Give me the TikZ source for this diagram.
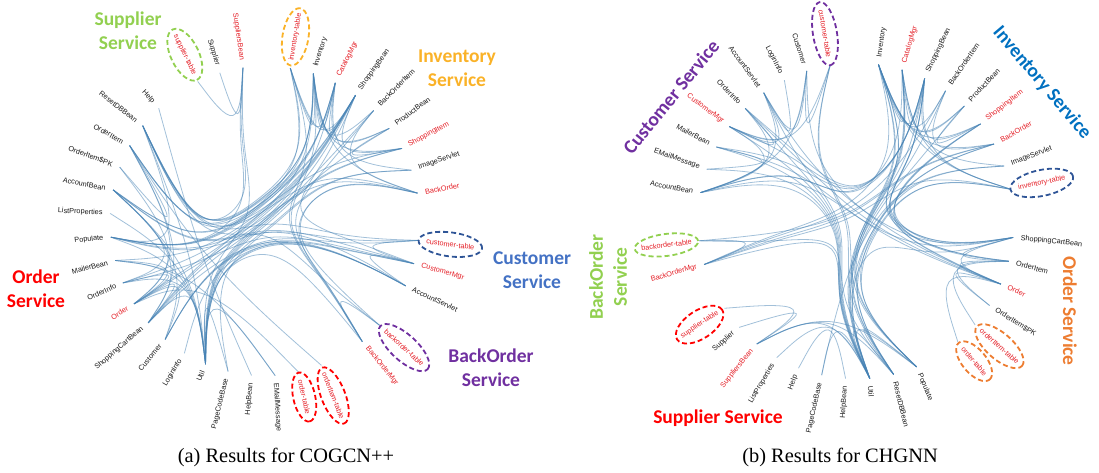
\documentclass[tikz,border=0pt]{standalone}
\usepackage{fontspec}
\setmainfont{Liberation Serif}
\newfontfamily\labfont{Liberation Sans}
\newfontfamily\svcfont{Carlito}
\usetikzlibrary{calc}
\definecolor{linkblue}{RGB}{70,130,180}
\definecolor{labred}{RGB}{228,30,38}
\definecolor{labblk}{RGB}{25,25,25}
\definecolor{sgreen}{RGB}{146,208,80}
\definecolor{sgold}{RGB}{250,178,40}
\definecolor{sblue}{RGB}{68,114,196}
\definecolor{spurple}{RGB}{112,48,160}
\definecolor{sred}{RGB}{255,0,0}
\definecolor{sblue2}{RGB}{0,112,192}
\definecolor{sorange}{RGB}{237,125,49}
\definecolor{snavy}{RGB}{47,85,151}
\tikzset{
  lab/.style={font=\labfont\fontsize{7.3}{8}\selectfont, inner sep=0.5pt},
  linkc/.style={draw=linkblue, draw opacity=0.5, line width=0.8pt},
  svc/.style={font=\svcfont\bfseries\fontsize{19.5}{24}\selectfont, align=center, inner sep=0pt},
  ell/.style={dash pattern=on 5pt off 3pt, line width=1.8pt},
  capt/.style={font=\fontsize{20.4}{24}\selectfont, inner sep=0pt}
}
% chart parameters
\def\czthL{-80.6}\def\czstL{8.78}\def\czRL{155}\def\czRTL{162}\def\czRHL{77.5}
\def\czthR{260.6}\def\czstR{-8.78}\def\czRR{158}\def\czRTR{165}\def\czRHR{79}
\newcommand\leaf[6]{%
  \edef\tz{\csname czth#1\endcsname}\edef\sz{\csname czst#1\endcsname}%
  \edef\rr{\csname czR#1\endcsname}\edef\rt{\csname czRT#1\endcsname}%
  \pgfmathsetmacro\ang{\tz+(\sz)*(#3)}%
  \coordinate (#1-#2) at ($(#1-c)+(\ang:\rr)$);
  \expandafter\xdef\csname hub@#1-#2\endcsname{#1-#4}%
  \pgfmathsetmacro\cv{cos(\ang)}%
  \ifdim\cv pt>0pt
    \pgfmathsetmacro\rot{0-(\ang)}%
    \node[lab,text=#5,anchor=west,rotate=\rot] (#1-#2-t) at ($(#1-c)+(\ang:\rt)$) {#6};
  \else
    \pgfmathsetmacro\rot{180-(\ang)}%
    \node[lab,text=#5,anchor=east,rotate=\rot] (#1-#2-t) at ($(#1-c)+(\ang:\rt)$) {#6};
  \fi
  \expandafter\xdef\csname rot@#1-#2\endcsname{\rot}%
}
\newcommand\hub[3]{%
  \edef\tz{\csname czth#1\endcsname}\edef\sz{\csname czst#1\endcsname}%
  \edef\rh{\csname czRH#1\endcsname}%
  \pgfmathsetmacro\ang{\tz+(\sz)*(#3)}%
  \coordinate (#1-#2) at ($(#1-c)+(\ang:\rh)$);
}
\newcommand\bund[3]{%
  \edef\hA{\csname hub@#1-#2\endcsname}%
  \edef\hB{\csname hub@#1-#3\endcsname}%
  \ifx\hA\hB
    \path ($0.85*(\hA)+0.075*(#1-#2)+0.075*(#1-#3)$) coordinate (q1);
    \draw[linkc] (#1-#2) -- ($0.8333*(#1-#2)+0.1667*(q1)$)
      .. controls ($0.6667*(#1-#2)+0.3333*(q1)$) and ($0.3333*(#1-#2)+0.6667*(q1)$)
      .. ($0.1667*(#1-#2)+0.6667*(q1)+0.1667*(#1-#3)$)
      .. controls ($0.6667*(q1)+0.3333*(#1-#3)$) and ($0.3333*(q1)+0.6667*(#1-#3)$)
      .. ($0.1667*(q1)+0.8333*(#1-#3)$) -- (#1-#3);
  \else
    \path ($0.85*(\hA)+0.1125*(#1-#2)+0.0375*(#1-#3)$) coordinate (q1)
          ($0.85*(#1-c)+0.075*(#1-#2)+0.075*(#1-#3)$) coordinate (q2)
          ($0.85*(\hB)+0.0375*(#1-#2)+0.1125*(#1-#3)$) coordinate (q3);
    \draw[linkc] (#1-#2) -- ($0.8333*(#1-#2)+0.1667*(q1)$)
      .. controls ($0.6667*(#1-#2)+0.3333*(q1)$) and ($0.3333*(#1-#2)+0.6667*(q1)$)
      .. ($0.1667*(#1-#2)+0.6667*(q1)+0.1667*(q2)$)
      .. controls ($0.6667*(q1)+0.3333*(q2)$) and ($0.3333*(q1)+0.6667*(q2)$)
      .. ($0.1667*(q1)+0.6667*(q2)+0.1667*(q3)$)
      .. controls ($0.6667*(q2)+0.3333*(q3)$) and ($0.3333*(q2)+0.6667*(q3)$)
      .. ($0.1667*(q2)+0.6667*(q3)+0.1667*(#1-#3)$)
      .. controls ($0.6667*(q3)+0.3333*(#1-#3)$) and ($0.3333*(q3)+0.6667*(#1-#3)$)
      .. ($0.1667*(q3)+0.8333*(#1-#3)$) -- (#1-#3);
  \fi
}
\newcommand\ovl[5]{%
  \draw[ell,#3,rotate=\csname rot@#1-#2\endcsname] (#1-#2-t.center) ellipse [x radius=#4pt, y radius=#5pt];
}
\newcommand\alledges[1]{%
\bund{#1}{Inventory}{invtab}
\bund{#1}{Inventory}{CatalogMgr}
\bund{#1}{Inventory}{ShoppingBean}
\bund{#1}{Inventory}{BackOrderMgr}
\bund{#1}{Inventory}{ShoppingItem}
\bund{#1}{Inventory}{ProductBean}
\bund{#1}{Inventory}{BackOrderItem}
\bund{#1}{Inventory}{Populate}
\bund{#1}{Inventory}{ResetDBBean}
\bund{#1}{Inventory}{OrderItem}
\bund{#1}{Inventory}{ShoppingCartBean}
\bund{#1}{Inventory}{BackOrder}
\bund{#1}{invtab}{CatalogMgr}
\bund{#1}{invtab}{ShoppingBean}
\bund{#1}{invtab}{ResetDBBean}
\bund{#1}{invtab}{Populate}
\bund{#1}{invtab}{BackOrderMgr}
\bund{#1}{CatalogMgr}{Util}
\bund{#1}{CatalogMgr}{ImageServlet}
\bund{#1}{CatalogMgr}{ProductBean}
\bund{#1}{CatalogMgr}{Populate}
\bund{#1}{CatalogMgr}{ShoppingBean}
\bund{#1}{CatalogMgr}{ResetDBBean}
\bund{#1}{CatalogMgr}{AccountBean}
\bund{#1}{ShoppingBean}{ShoppingItem}
\bund{#1}{ShoppingBean}{Util}
\bund{#1}{ShoppingBean}{Order}
\bund{#1}{ShoppingBean}{ShoppingCartBean}
\bund{#1}{ShoppingBean}{CustomerMgr}
\bund{#1}{ShoppingBean}{OrderInfo}
\bund{#1}{ShoppingBean}{AccountBean}
\bund{#1}{ShoppingBean}{MailerBean}
\bund{#1}{ShoppingBean}{OrderItem}
\bund{#1}{BackOrderItem}{BackOrder}
\bund{#1}{BackOrderItem}{BackOrderMgr}
\bund{#1}{BackOrderItem}{Util}
\bund{#1}{ProductBean}{ShoppingItem}
\bund{#1}{ProductBean}{Util}
\bund{#1}{ShoppingItem}{ShoppingCartBean}
\bund{#1}{ShoppingItem}{OrderItem}
\bund{#1}{ShoppingItem}{Order}
\bund{#1}{ImageServlet}{Util}
\bund{#1}{ImageServlet}{PageCodeBase}
\bund{#1}{BackOrder}{BackOrderMgr}
\bund{#1}{BackOrder}{botab}
\bund{#1}{BackOrder}{ResetDBBean}
\bund{#1}{BackOrder}{Populate}
\bund{#1}{custtab}{Customer}
\bund{#1}{custtab}{CustomerMgr}
\bund{#1}{custtab}{ResetDBBean}
\bund{#1}{custtab}{Populate}
\bund{#1}{CustomerMgr}{Customer}
\bund{#1}{CustomerMgr}{AccountBean}
\bund{#1}{CustomerMgr}{Util}
\bund{#1}{CustomerMgr}{OrderInfo}
\bund{#1}{AccountServlet}{Util}
\bund{#1}{AccountServlet}{AccountBean}
\bund{#1}{AccountServlet}{LoginInfo}
\bund{#1}{AccountServlet}{CustomerMgr}
\bund{#1}{AccountServlet}{Customer}
\bund{#1}{AccountServlet}{ShoppingCartBean}
\bund{#1}{botab}{BackOrderMgr}
\bund{#1}{botab}{ResetDBBean}
\bund{#1}{BackOrderMgr}{Util}
\bund{#1}{oitab}{OrderItem}
\bund{#1}{otab}{Order}
\bund{#1}{EMailMessage}{MailerBean}
\bund{#1}{EMailMessage}{Util}
\bund{#1}{HelpBean}{Help}
\bund{#1}{PageCodeBase}{Util}
\bund{#1}{Util}{Populate}
\bund{#1}{Util}{ResetDBBean}
\bund{#1}{Util}{MailerBean}
\bund{#1}{Util}{ListProperties}
\bund{#1}{Util}{AccountBean}
\bund{#1}{Util}{SuppliersBean}
\bund{#1}{Util}{ShoppingCartBean}
\bund{#1}{Util}{OrderInfo}
\bund{#1}{Customer}{Order}
\bund{#1}{Customer}{AccountBean}
\bund{#1}{ShoppingCartBean}{Order}
\bund{#1}{ShoppingCartBean}{OrderItem}
\bund{#1}{ShoppingCartBean}{AccountBean}
\bund{#1}{Order}{OrderItem}
\bund{#1}{Order}{OrderInfo}
\bund{#1}{Order}{MailerBean}
\bund{#1}{Order}{OrderItemPK}
\bund{#1}{OrderInfo}{AccountBean}
\bund{#1}{Populate}{ResetDBBean}
\bund{#1}{OrderItem}{OrderItemPK}
\bund{#1}{suptab}{SuppliersBean}
\bund{#1}{Supplier}{SuppliersBean}
\bund{#1}{SuppliersBean}{ResetDBBean}
\bund{#1}{SuppliersBean}{Populate}
}
\begin{document}
\begin{tikzpicture}[x=1pt,y=-1pt]
\useasboundingbox (0,0) rectangle (1099,473);
% ---------------- left chart ----------------
\coordinate (L-c) at (265,221);
\hub{L}{g1}{4}\hub{L}{g2}{11}\hub{L}{g3}{14.5}\hub{L}{g4}{26}\hub{L}{g5}{38}
\leaf{L}{invtab}{0}{g1}{labred}{inventory-table}
\leaf{L}{Inventory}{1}{g1}{labblk}{Inventory}
\leaf{L}{CatalogMgr}{2}{g1}{labred}{CatalogMgr}
\leaf{L}{ShoppingBean}{3}{g1}{labblk}{ShoppingBean}
\leaf{L}{BackOrderItem}{4}{g1}{labblk}{BackOrderItem}
\leaf{L}{ProductBean}{5}{g1}{labblk}{ProductBean}
\leaf{L}{ShoppingItem}{6}{g1}{labred}{ShoppingItem}
\leaf{L}{ImageServlet}{7}{g1}{labblk}{ImageServlet}
\leaf{L}{BackOrder}{8}{g1}{labred}{BackOrder}
\leaf{L}{custtab}{10}{g2}{labred}{customer-table}
\leaf{L}{CustomerMgr}{11}{g2}{labred}{CustomerMgr}
\leaf{L}{AccountServlet}{12}{g2}{labblk}{AccountServlet}
\leaf{L}{botab}{14}{g3}{labred}{backorder-table}
\leaf{L}{BackOrderMgr}{15}{g3}{labred}{BackOrderMgr}
\leaf{L}{oitab}{17}{g4}{labred}{orderItem-table}
\leaf{L}{otab}{18}{g4}{labred}{order-table}
\leaf{L}{EMailMessage}{19}{g4}{labblk}{EMailMessage}
\leaf{L}{HelpBean}{20}{g4}{labblk}{HelpBean}
\leaf{L}{PageCodeBase}{21}{g4}{labblk}{PageCodeBase}
\leaf{L}{Util}{22}{g4}{labblk}{Util}
\leaf{L}{LoginInfo}{23}{g4}{labblk}{LoginInfo}
\leaf{L}{Customer}{24}{g4}{labblk}{Customer}
\leaf{L}{ShoppingCartBean}{25}{g4}{labblk}{ShoppingCartBean}
\leaf{L}{Order}{26}{g4}{labred}{Order}
\leaf{L}{OrderInfo}{27}{g4}{labblk}{OrderInfo}
\leaf{L}{MailerBean}{28}{g4}{labblk}{MailerBean}
\leaf{L}{Populate}{29}{g4}{labblk}{Populate}
\leaf{L}{ListProperties}{30}{g4}{labblk}{ListProperties}
\leaf{L}{AccountBean}{31}{g4}{labblk}{AccountBean}
\leaf{L}{OrderItemPK}{32}{g4}{labblk}{OrderItem\$PK}
\leaf{L}{OrderItem}{33}{g4}{labblk}{OrderItem}
\leaf{L}{ResetDBBean}{34}{g4}{labblk}{ResetDBBean}
\leaf{L}{Help}{35}{g4}{labblk}{Help}
\leaf{L}{suptab}{37}{g5}{labred}{supplier-table}
\leaf{L}{Supplier}{38}{g5}{labblk}{Supplier}
\leaf{L}{SuppliersBean}{39}{g5}{labred}{SuppliersBean}
\alledges{L}
\ovl{L}{suptab}{sgreen}{28}{14}
\ovl{L}{invtab}{sgold}{29}{13}
\ovl{L}{custtab}{snavy}{32}{12}
\ovl{L}{botab}{spurple}{32}{13}
\ovl{L}{otab}{sred}{25}{11}
\ovl{L}{oitab}{sred}{30}{12}
\node[svc,text=sgreen] (L-supsvc) at (128,31) {Supplier\\Service};
\node[svc,text=sgold] (L-invsvc) at (457,68) {Inventory\\Service};
\node[svc,text=sblue] (L-cussvc) at (532,270) {Customer\\Service};
\node[svc,text=spurple] (L-bosvc) at (491,368) {BackOrder\\Service};
\node[svc,text=sred] (L-ordsvc) at (36,289) {Order\\Service};
\node[capt] (capA) at (286,457) {(a) Results for COGCN++};
% ---------------- right chart ----------------
\coordinate (R-c) at (856,221);
\hub{R}{h1}{4}\hub{R}{h2}{10.5}\hub{R}{h3}{17.5}\hub{R}{h4}{26.5}\hub{R}{h5}{35}
\leaf{R}{custtab}{0}{h1}{labred}{customer-table}
\leaf{R}{Customer}{1}{h1}{labblk}{Customer}
\leaf{R}{LoginInfo}{2}{h1}{labblk}{LoginInfo}
\leaf{R}{AccountServlet}{3}{h1}{labblk}{AccountServlet}
\leaf{R}{OrderInfo}{4}{h1}{labblk}{OrderInfo}
\leaf{R}{CustomerMgr}{5}{h1}{labred}{CustomerMgr}
\leaf{R}{MailerBean}{6}{h1}{labblk}{MailerBean}
\leaf{R}{EMailMessage}{7}{h1}{labblk}{EMailMessage}
\leaf{R}{AccountBean}{8}{h1}{labblk}{AccountBean}
\leaf{R}{botab}{10}{h2}{labred}{backorder-table}
\leaf{R}{BackOrderMgr}{11}{h2}{labred}{BackOrderMgr}
\leaf{R}{suptab}{13}{h3}{labred}{supplier-table}
\leaf{R}{Supplier}{14}{h3}{labblk}{Supplier}
\leaf{R}{SuppliersBean}{15}{h3}{labred}{SuppliersBean}
\leaf{R}{ListProperties}{16}{h3}{labblk}{ListProperties}
\leaf{R}{Help}{17}{h3}{labblk}{Help}
\leaf{R}{PageCodeBase}{18}{h3}{labblk}{PageCodeBase}
\leaf{R}{HelpBean}{19}{h3}{labblk}{HelpBean}
\leaf{R}{Util}{20}{h3}{labblk}{Util}
\leaf{R}{ResetDBBean}{21}{h3}{labblk}{ResetDBBean}
\leaf{R}{Populate}{22}{h3}{labblk}{Populate}
\leaf{R}{otab}{24}{h4}{labred}{order-table}
\leaf{R}{oitab}{25}{h4}{labred}{orderItem-table}
\leaf{R}{OrderItemPK}{26}{h4}{labblk}{OrderItem\$PK}
\leaf{R}{Order}{27}{h4}{labred}{Order}
\leaf{R}{OrderItem}{28}{h4}{labblk}{OrderItem}
\leaf{R}{ShoppingCartBean}{29}{h4}{labblk}{ShoppingCartBean}
\leaf{R}{invtab}{31}{h5}{labred}{inventory-table}
\leaf{R}{ImageServlet}{32}{h5}{labblk}{ImageServlet}
\leaf{R}{BackOrder}{33}{h5}{labred}{BackOrder}
\leaf{R}{ShoppingItem}{34}{h5}{labred}{ShoppingItem}
\leaf{R}{ProductBean}{35}{h5}{labblk}{ProductBean}
\leaf{R}{BackOrderItem}{36}{h5}{labblk}{BackOrderItem}
\leaf{R}{ShoppingBean}{37}{h5}{labblk}{ShoppingBean}
\leaf{R}{CatalogMgr}{38}{h5}{labred}{CatalogMgr}
\leaf{R}{Inventory}{39}{h5}{labblk}{Inventory}
\alledges{R}
\ovl{R}{custtab}{spurple}{32}{12}
\ovl{R}{invtab}{snavy}{32}{13}
\ovl{R}{botab}{sgreen}{32}{11}
\ovl{R}{suptab}{sred}{27}{14}
\ovl{R}{oitab}{sorange}{30}{13}
\ovl{R}{otab}{sorange}{24}{12}
\node[svc,text=spurple,rotate=51] (R-cussvc) at (671,97) {Customer Service};
\node[svc,text=sblue2,rotate=-49.6] (R-invsvc) at (1042,83) {Inventory Service};
\node[svc,text=sgreen,rotate=90] (R-bosvc) at (608,277) {BackOrder\\Service};
\node[svc,text=sred] (R-supsvc) at (718,418) {Supplier Service};
\node[svc,text=sorange,rotate=-90] (R-ordsvc) at (1070,311) {Order Service};
\node[capt] (capB) at (840,457) {(b) Results for CHGNN};
\end{tikzpicture}
\end{document}
